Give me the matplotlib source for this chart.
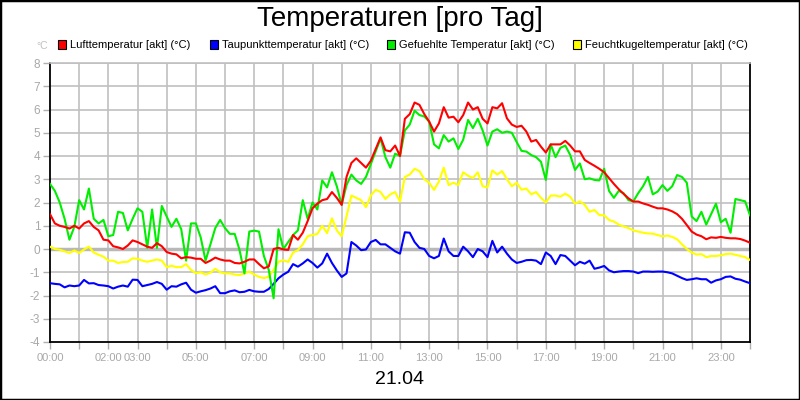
import numpy as np
import matplotlib
matplotlib.use("Agg")
import matplotlib.pyplot as plt
from matplotlib.patches import Rectangle

plt.rcParams['font.family'] = ['Liberation Sans', 'DejaVu Sans']

# 10-minute readings, 00:00 .. 24:00
luft = [1.5, 1.1, 1.0, 0.95, 0.88, 1.0, 0.88, 1.1, 1.2, 0.95, 0.8, 0.4, 0.37, 0.12, 0.07, 0.0, 0.15, 0.37, 0.3, 0.2, 0.1, 0.05, 0.25, 0.12, -0.13, -0.2, -0.23, -0.4, -0.35, -0.37, -0.42, -0.42, -0.6, -0.5, -0.37, -0.45, -0.5,
        -0.5, -0.6, -0.62, -0.55, -0.45, -0.45, -0.65, -0.83, -0.75, 0.0, 0.05, -0.02, -0.04, 0.6, 0.4, 0.7, 1.2, 1.75, 1.95, 2.1, 2.15, 2.45, 2.2, 1.9, 3.1, 3.7, 3.9, 3.7, 3.5, 3.8, 4.3, 4.8, 4.25, 4.2, 4.45, 4.0,
        5.6, 5.8, 6.3, 6.2, 5.8, 5.48, 5.05, 5.4, 6.1, 5.65, 5.69, 5.45, 5.76, 6.3, 6.0, 6.1, 5.6, 5.4, 6.1, 6.05, 6.27, 5.62, 5.35, 5.25, 5.3, 5.05, 4.62, 4.69, 4.4, 4.15, 4.5, 4.5, 4.5, 4.65, 4.45, 4.2,
        4.2, 3.83, 3.7, 3.58, 3.45, 3.3, 3.05, 2.8, 2.57, 2.37, 2.18, 2.04, 2.04, 1.96, 1.9, 1.82, 1.75, 1.75, 1.7, 1.62, 1.5, 1.3, 1.03, 0.75, 0.62, 0.55, 0.42, 0.5, 0.48, 0.52, 0.48, 0.46, 0.46, 0.43, 0.36, 0.27]

taupunkt = [-1.47, -1.5, -1.52, -1.65, -1.57, -1.6, -1.57, -1.33, -1.48, -1.47, -1.55, -1.57, -1.6, -1.7, -1.62, -1.57, -1.62, -1.32, -1.33, -1.6, -1.55, -1.5, -1.42, -1.5, -1.75, -1.6, -1.62, -1.52, -1.45, -1.75, -1.88, -1.82, -1.77, -1.7, -1.6, -1.9, -1.9,
            -1.82, -1.78, -1.86, -1.84, -1.76, -1.82, -1.84, -1.84, -1.72, -1.5, -1.26, -1.1, -0.98, -0.65, -0.76, -0.62, -0.45, -0.6, -0.8, -0.62, -0.2, -0.6, -0.92, -1.2, -1.05, 0.3, 0.15, -0.05, -0.02, 0.3, 0.39, 0.2, 0.2, 0.05, -0.1, -0.2,
            0.72, 0.7, 0.3, 0.05, 0.0, -0.3, -0.4, -0.3, 0.45, -0.1, -0.3, -0.3, 0.1, -0.1, -0.35, 0.0, -0.1, -0.35, 0.35, -0.15, 0.1, -0.2, -0.45, -0.6, -0.55, -0.48, -0.47, -0.5, -0.65, -0.15, -0.3, -0.65, -0.26, -0.3, -0.5, -0.7,
            -0.55, -0.63, -0.5, -0.85, -0.8, -0.73, -0.92, -1.0, -0.97, -0.95, -0.95, -0.97, -1.04, -0.97, -0.97, -0.98, -0.97, -0.97, -1.0, -1.05, -1.15, -1.25, -1.33, -1.3, -1.26, -1.3, -1.3, -1.45, -1.35, -1.3, -1.2, -1.18, -1.28, -1.32, -1.4, -1.47]

gefuehlt = [2.8, 2.5, 2.0, 1.3, 0.4, 0.95, 2.1, 1.7, 2.6, 1.3, 1.1, 1.25, 0.55, 0.6, 1.6, 1.55, 0.8, 1.3, 1.75, 1.6, 0.05, 1.7, 0.05, 1.85, 1.4, 0.95, 1.3, 0.85, -0.5, 1.1, 1.1, 0.5, -0.5, 0.2, 0.9, 1.25, 0.9,
            0.65, 0.65, -0.05, -1.05, 0.75, 0.79, 0.75, -0.3, -0.9, -2.12, 0.85, 0.0, 0.3, 0.6, 0.8, 2.1, 1.3, 2.0, 1.7, 2.95, 2.65, 3.3, 2.7, 1.9, 2.75, 3.2, 2.95, 2.8, 3.1, 3.65, 4.2, 4.75, 3.95, 3.5, 4.1, 4.0,
            5.1, 5.35, 5.95, 5.76, 5.7, 5.48, 4.5, 4.33, 4.9, 4.62, 4.76, 4.3, 4.7, 5.55, 5.2, 5.6, 5.1, 4.45, 5.05, 5.15, 5.0, 5.05, 5.0, 4.6, 4.22, 4.19, 4.04, 3.95, 3.75, 2.97, 4.5, 3.95, 4.35, 4.45, 4.05, 3.4,
            3.68, 3.0, 3.04, 2.97, 2.95, 3.45, 2.5, 2.2, 2.5, 2.4, 2.1, 2.05, 2.4, 2.7, 3.1, 2.35, 2.47, 2.75, 2.5, 2.7, 3.18, 3.1, 2.85, 1.4, 1.2, 1.6, 1.05, 1.5, 1.95, 1.15, 1.3, 0.7, 2.15, 2.1, 2.05, 1.45]

feuchtkugel = [0.1, 0.0, -0.03, -0.1, -0.17, -0.06, -0.17, -0.02, 0.1, -0.15, -0.25, -0.33, -0.5, -0.5, -0.6, -0.56, -0.55, -0.4, -0.42, -0.5, -0.55, -0.5, -0.45, -0.5, -0.78, -0.72, -0.78, -0.78, -0.65, -0.9, -1.04, -1.0, -1.1, -1.02, -0.85, -1.0, -1.05,
               -1.05, -1.1, -1.12, -1.05, -0.97, -1.1, -1.2, -1.25, -1.19, -0.9, -0.55, -0.48, -0.56, -0.15, -0.05, 0.2, 0.55, 0.6, 0.65, 1.0, 0.68, 1.32, 0.8, 0.55, 1.4, 2.3, 2.2, 2.1, 1.8, 2.3, 2.55, 2.45, 2.15, 2.35, 2.45, 2.04,
               3.1, 3.2, 3.45, 3.35, 3.0, 2.85, 2.54, 2.9, 3.5, 2.75, 2.85, 2.75, 3.3, 3.15, 3.05, 3.3, 2.7, 2.65, 3.38, 3.2, 3.35, 3.0, 2.7, 2.85, 2.55, 2.6, 2.35, 2.45, 2.2, 2.0, 2.3, 2.3, 2.25, 2.38, 2.25, 1.95,
               2.05, 1.9, 1.6, 1.68, 1.46, 1.45, 1.25, 1.18, 1.05, 0.97, 0.9, 0.8, 0.75, 0.7, 0.67, 0.66, 0.6, 0.54, 0.58, 0.52, 0.42, 0.2, 0.0, -0.15, -0.24, -0.22, -0.35, -0.3, -0.3, -0.27, -0.22, -0.2, -0.25, -0.3, -0.35, -0.47]

hours = np.arange(len(luft)) / 6.0

series_names = ["Lufttemperatur [akt] (°C)", "Taupunkttemperatur [akt] (°C)",
                "Gefuehlte Temperatur [akt] (°C)", "Feuchtkugeltemperatur [akt] (°C)"]
series_colors = ["#ff0000", "#0000ff", "#00ee00", "#ffff00"]

label_hours = [0, 2, 3, 5, 7, 9, 11, 13, 15, 17, 19, 21, 23]
label_texts = ["00:00", "02:00", "03:00", "05:00", "07:00", "09:00", "11:00",
               "13:00", "15:00", "17:00", "19:00", "21:00", "23:00"]
y_ticks = list(range(-4, 9))

W, H = 800, 400
fig = plt.figure(figsize=(8, 4), dpi=100)
fig.patch.set_facecolor("white")
ax = fig.add_axes([50 / W, 58 / H, 700 / W, 279 / H])

grid_c = "#c0c0c0"
for h in range(1, 24):
    ax.axvline(h, color=grid_c, lw=1.2, zorder=1)
for v in y_ticks:
    if v == 0:
        ax.axhline(v, color="#b8b8b8", lw=2.5, zorder=1)
    elif v != -4:
        ax.axhline(v, color=grid_c, lw=1.2, zorder=1)

data = [luft, taupunkt, gefuehlt, feuchtkugel]
order = [3, 1, 2, 0]
for i in order:
    ax.plot(hours, data[i], color=series_colors[i], lw=1.5, zorder=3 + order.index(i))

ax.set_xlim(0, 24)
ax.set_ylim(-4, 8)
ax.set_xticks(label_hours)
ax.set_xticklabels(label_texts)
ax.set_xticks(range(0, 25), minor=True)
ax.tick_params(axis="x", which="both", length=5, color="#b0b0b0", width=1)
ax.tick_params(axis="x", which="major", labelsize=8, labelcolor="#a8a8a8", pad=3)
ax.set_yticks(y_ticks)
ax.set_yticklabels([str(v) for v in y_ticks])
ax.tick_params(axis="y", length=5, color="#b0b0b0", width=1, labelsize=8.5,
               labelcolor="#a8a8a8", pad=2)

for side in ["left", "bottom", "right"]:
    ax.spines[side].set_color("black")
    ax.spines[side].set_linewidth(1.3)
ax.spines["top"].set_color(grid_c)
ax.spines["top"].set_linewidth(1.2)

# title and labels
fig.text(0.5, 1 - 19 / H, "Temperaturen [pro Tag]", ha="center", va="center", fontsize=20)
fig.text(42 / W, 1 - 46 / H, "°C", ha="center", va="center", fontsize=7.5, color="#c0c0c0")
fig.text(0.5, 1 - 379 / H, "21.04", ha="center", va="center", fontsize=14)

legend_x = [58, 210, 387, 573]
for lx, name, col in zip(legend_x, series_names, series_colors):
    fig.patches.append(Rectangle((lx / W, 1 - 48.5 / H), 8 / W, 8 / H, transform=fig.transFigure,
                                 facecolor=col, edgecolor="black", lw=0.8))
    fig.text((lx + 12) / W, 1 - 44.5 / H, name, ha="left", va="center", fontsize=8)

fig.patches.append(Rectangle((0, 0), 1, 1, transform=fig.transFigure, fill=False,
                             edgecolor="black", lw=2.5))

fig.savefig("out.png", dpi=100)
